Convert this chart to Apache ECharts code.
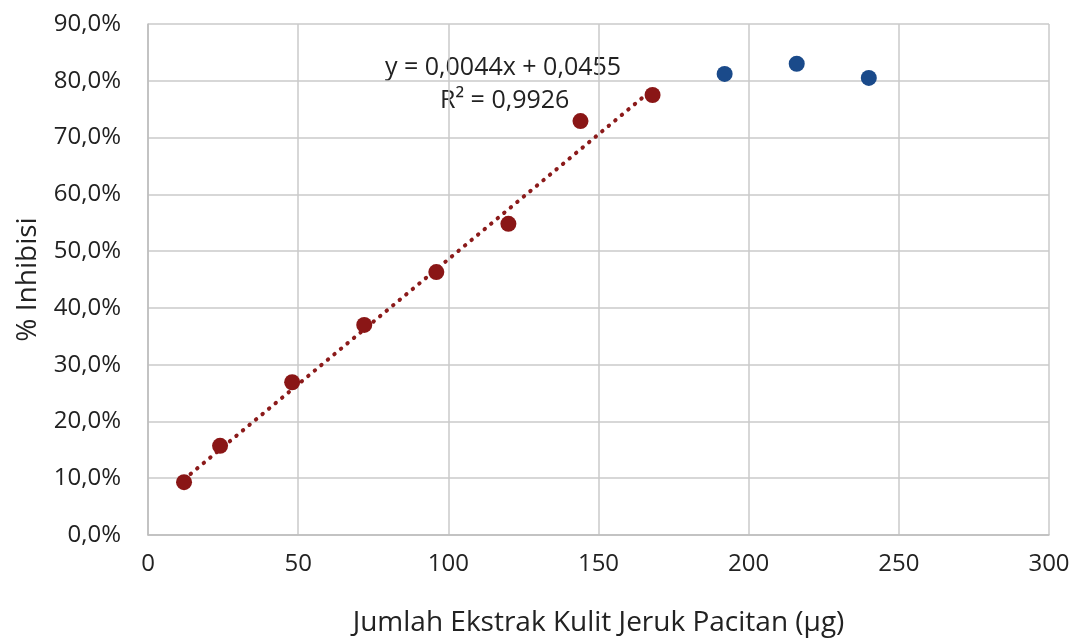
<!DOCTYPE html>
<html><head><meta charset="utf-8">
<script src="https://cdn.jsdelivr.net/npm/echarts@6/dist/echarts.min.js"></script>
<style>html,body{margin:0;padding:0;background:#fff}#c{width:1078px;height:639px}</style>
</head><body><div id="c"></div>
<script>
const fitX = [12, 24, 48, 72, 96, 120, 144, 168];
const fitY = [9.3, 15.7, 26.9, 37.0, 46.3, 54.8, 72.9, 77.5];
const restX = [192, 216, 240];
const restY = [81.2, 83.0, 80.5];
const trendX = [12, 168];
const trendY = [9.8, 78.5];
const eqText = 'y = 0,0044x + 0,0455';
const r2Text = 'R² = 0,9926';
const xTitle = 'Jumlah Ekstrak Kulit Jeruk Pacitan (µg)';
const yTitle = '% Inhibisi';

const font = "'Open Sans', 'Liberation Sans', sans-serif";
const chart = echarts.init(document.getElementById('c'));
chart.setOption({
  animation: false,
  grid: {left: 148, top: 24, right: 29, bottom: 104, outerBoundsMode: 'none', containLabel: false},
  xAxis: {
    type: 'value', min: 0, max: 300, interval: 50,
    name: xTitle, nameLocation: 'middle', nameGap: 74,
    nameTextStyle: {fontFamily: font, fontSize: 28, color: '#222'},
    axisLine: {lineStyle: {color: '#bdbdbd', width: 1.5}},
    axisTick: {show: false},
    axisLabel: {fontFamily: font, fontSize: 24, color: '#222', margin: 17},
    splitLine: {lineStyle: {color: '#cacaca', width: 1.5}}
  },
  yAxis: {
    type: 'value', min: 0, max: 90, interval: 10,
    name: yTitle, nameLocation: 'middle', nameGap: 106,
    nameTextStyle: {fontFamily: font, fontSize: 28, color: '#222'},
    axisLine: {show: true, lineStyle: {color: '#bdbdbd', width: 1.5}},
    axisTick: {show: false},
    axisLabel: {fontFamily: font, fontSize: 24, color: '#222', margin: 27,
      formatter: v => v.toFixed(1).replace('.', ',') + '%'},
    splitLine: {lineStyle: {color: '#cacaca', width: 1.5}}
  },
  series: [
    {
      type: 'line', data: trendX.map((x, i) => [x, trendY[i]]),
      symbol: 'none', z: 2,
      lineStyle: {color: '#8b1a1a', width: 4, type: [0.5, 8], cap: 'round'}
    },
    {
      type: 'scatter', data: fitX.map((x, i) => [x, fitY[i]]),
      symbolSize: 16, z: 3,
      itemStyle: {color: '#8a1616', opacity: 1}
    },
    {
      type: 'scatter', data: restX.map((x, i) => [x, restY[i]]),
      symbolSize: 16, z: 3,
      itemStyle: {color: '#1a4a8a', opacity: 1}
    }
  ],
  graphic: [
    {type: 'text', left: 385, top: 55, style: {text: eqText, font: "25px " + font, fill: '#222'}},
    {type: 'text', left: 440, top: 88, style: {text: r2Text, font: "25px " + font, fill: '#222'}}
  ]
});
</script></body></html>
